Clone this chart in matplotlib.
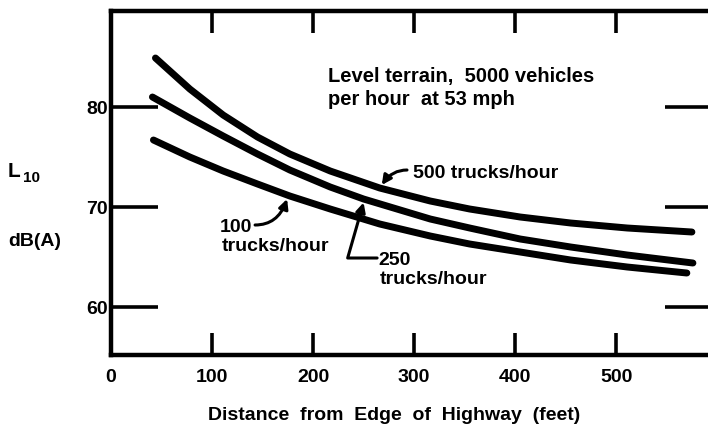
import matplotlib.pyplot as plt

plt.rcParams['font.family'] = ['Liberation Sans', 'DejaVu Sans']
plt.rcParams['font.weight'] = 'bold'
plt.rcParams['font.size'] = 14

# L10 noise level vs distance, level terrain, 5000 veh/h at 53 mph
dist_500 = [44, 78, 111, 145, 177, 217, 266, 316, 355, 405, 455, 511, 575]
l10_500 = [84.9, 81.8, 79.2, 77.0, 75.3, 73.6, 71.9, 70.6, 69.8, 69.0, 68.4, 67.9, 67.5]

dist_250 = [41, 78, 111, 145, 177, 217, 250, 316, 355, 405, 455, 511, 576]
l10_250 = [81.0, 78.9, 77.1, 75.3, 73.7, 72.0, 70.8, 68.8, 67.9, 66.8, 66.0, 65.2, 64.4]

dist_100 = [42, 78, 111, 145, 177, 217, 266, 316, 355, 405, 455, 511, 570]
l10_100 = [76.7, 75.0, 73.6, 72.3, 71.1, 69.8, 68.3, 67.1, 66.3, 65.5, 64.7, 64.0, 63.4]

xticks = [0, 100, 200, 300, 400, 500]
yticks = [60, 70, 80]

fig = plt.figure(figsize=(7.08, 4.30), dpi=100)
ax = fig.add_axes([0.1568, 0.1744, 0.849, 0.80])

for d, l in [(dist_500, l10_500), (dist_250, l10_250), (dist_100, l10_100)]:
    ax.plot(d, l, color='black', lw=5, solid_capstyle='round', solid_joinstyle='round')

ax.set_xlim(0, 595)
ax.set_ylim(55.2, 89.6)
ax.set_xticks(xticks)
ax.set_yticks(yticks)
ax.tick_params(axis='x', direction='in', length=15.5, width=2.6, top=True,
               pad=10, labelsize=14)
ax.tick_params(axis='y', direction='in', length=34, width=2.6, right=True,
               pad=2, labelsize=14)
for s in ax.spines.values():
    s.set_linewidth(3.2)

# notes and leaders
ax.text(215, 82.5, 'Level terrain,  5000 vehicles', fontsize=14.5)
ax.text(215, 80.2, 'per hour  at 53 mph', fontsize=14.5)

ax.text(299, 72.9, '500 trucks/hour')
ax.text(108, 67.5, '100')
ax.text(110, 65.6, 'trucks/hour')
ax.text(264.5, 64.2, '250')
ax.text(266, 62.3, 'trucks/hour')

arrow = dict(arrowstyle='-|>', color='black', lw=2.2, mutation_scale=14,
             shrinkA=0, shrinkB=0)
ax.annotate('', xy=(268, 72.2), xytext=(293, 73.7),
            arrowprops=dict(arrow, connectionstyle='angle3,angleA=0,angleB=55'))
ax.annotate('', xy=(174.3, 70.8), xytext=(142.6, 68.2),
            arrowprops=dict(arrow, connectionstyle='angle3,angleA=0,angleB=70'))
ax.annotate('', xy=(250, 70.45), xytext=(263.4, 64.9),
            arrowprops=dict(arrow, connectionstyle='angle,angleA=0,angleB=74,rad=0'))

# axis labels
fig.text(394 / 708, 1 - 415 / 430, 'Distance  from  Edge  of  Highway  (feet)',
         ha='center', va='center', fontsize=14)
fig.text(8 / 708, 1 - 177 / 430, 'L', fontsize=15, va='baseline')
fig.text(23 / 708, 1 - 182 / 430, '10', fontsize=11, va='baseline')
fig.text(8 / 708, 1 - 241 / 430, 'dB(A)', fontsize=14, va='center')

fig.savefig('out.png', dpi=100)
